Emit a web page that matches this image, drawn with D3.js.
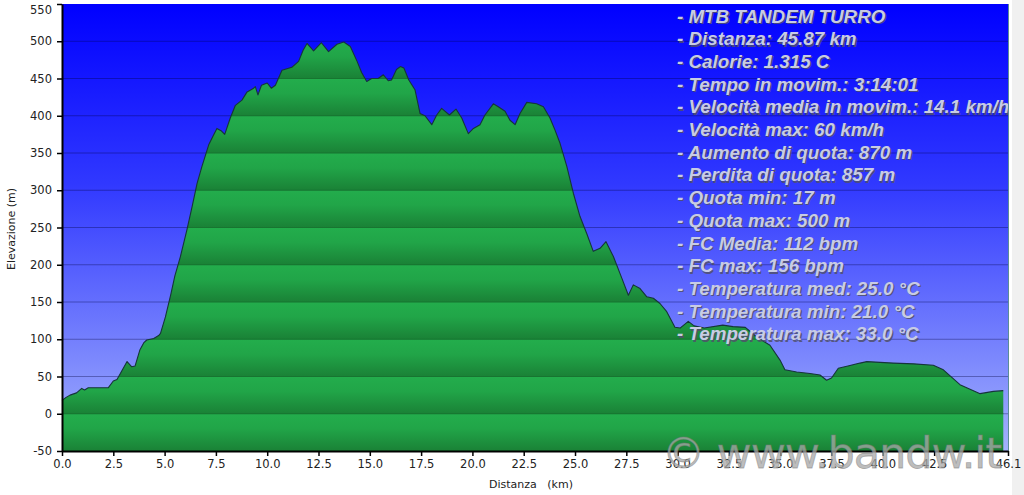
<!DOCTYPE html>
<html><head><meta charset="utf-8">
<script src="https://cdn.jsdelivr.net/npm/d3@7"></script>
<style>body{margin:0;background:#fff;overflow:hidden}</style>
</head><body>
<svg id="c" width="1024" height="495"></svg>
<script>
const distanceKm = [0.0,0.2,0.39,0.71,0.96,1.1,1.28,2.26,2.5,2.68,3.17,3.4,3.56,3.8,3.98,4.13,4.47,4.71,4.8,5.04,5.3,5.5,5.77,6.09,6.34,6.58,6.82,7.15,7.35,7.55,7.75,7.93,8.2,8.45,8.77,9.02,9.34,9.42,9.55,9.72,10.0,10.2,10.4,10.72,11.2,11.53,11.75,11.94,12.26,12.64,12.99,13.4,13.73,14.05,14.38,14.6,14.85,15.09,15.41,15.66,15.9,16.06,16.3,16.49,16.66,16.9,17.2,17.45,17.69,18.02,18.26,18.5,18.88,19.2,19.48,19.8,20.05,20.37,20.61,21.02,21.26,21.59,21.83,22.08,22.32,22.65,23.13,23.46,23.78,24.02,24.27,24.6,24.92,25.24,25.57,25.89,26.22,26.51,26.87,27.28,27.6,27.84,28.17,28.5,28.82,29.14,29.47,29.87,30.12,30.52,30.8,31.3,32.2,32.7,33.3,33.85,34.5,34.99,35.23,35.8,36.45,36.94,37.26,37.5,37.83,38.3,38.89,39.22,40.51,41.5,42.46,42.95,43.76,44.74,45.39,45.87];
const elevationM = [18,22,25,28,34,32,35,35,44,46,70,63,64,86,95,99,101,105,108,130,160,185,211,247,278,309,332,361,372,383,380,375,397,414,421,432,437,439,428,441,444,437,441,461,465,473,488,497,487,498,486,496,499,493,473,458,446,450,450,455,447,448,462,466,464,448,435,403,400,388,401,410,401,409,397,376,383,388,401,416,412,406,394,388,403,418,416,412,397,381,363,332,296,265,242,218,222,231,211,182,159,173,168,157,155,148,137,116,115,124,118,115,119,117,116,103,92,72,59,56,54,52,45,48,61,64,68,70,68,67,65,59,39,27,30,31];
const yTickValues = [-50,0,50,100,150,200,250,300,350,400,450,500,550];
const xTickValues = [0,2.5,5,7.5,10,12.5,15,17.5,20,22.5,25,27.5,30,32.5,35,37.5,40,42.5,46.1];
const statsLines = [
  "- MTB TANDEM TURRO",
  "- Distanza: 45.87 km",
  "- Calorie: 1.315 C",
  "- Tempo in movim.: 3:14:01",
  "- Velocità media in movim.: 14.1 km/h",
  "- Velocità max: 60 km/h",
  "- Aumento di quota: 870 m",
  "- Perdita di quota: 857 m",
  "- Quota min: 17 m",
  "- Quota max: 500 m",
  "- FC Media: 112 bpm",
  "- FC max: 156 bpm",
  "- Temperatura med: 25.0 °C",
  "- Temperatura min: 21.0 °C",
  "- Temperatura max: 33.0 °C"
];
const watermarkText = "© www.bandw.it";
const xTitle = "Distanza   (km)";
const yTitle = "Elevazione (m)";

const data = distanceKm.map((k,i)=>({km:k, m:elevationM[i]}));
const svg = d3.select("#c");
const L=62, R=1008, T=4, B=451;
const x = d3.scaleLinear().domain([0,46.1]).range([L,R]);
const y = d3.scaleLinear().domain([-50,550]).range([B,T]);

const defs = svg.append("defs");
const bg = defs.append("linearGradient").attr("id","bg").attr("gradientUnits","userSpaceOnUse")
  .attr("x1",0).attr("x2",0).attr("y1",T).attr("y2",B);
bg.append("stop").attr("offset",0).attr("stop-color","#0000ff");
bg.append("stop").attr("offset",0.4).attr("stop-color","#3038ff");
bg.append("stop").attr("offset",1).attr("stop-color","#a4b2fc");
const gr = defs.append("linearGradient").attr("id","gr").attr("gradientUnits","userSpaceOnUse")
  .attr("spreadMethod","repeat")
  .attr("x1",0).attr("x2",0).attr("y1",y(550)).attr("y2",y(500));
gr.append("stop").attr("offset",0).attr("stop-color","#23ad4c");
gr.append("stop").attr("offset",0.4).attr("stop-color","#21a548");
gr.append("stop").attr("offset",1).attr("stop-color","#1a8136");
defs.append("clipPath").attr("id","plotclip").append("rect")
  .attr("x",L).attr("y",T).attr("width",R-L).attr("height",B-T);
const area = d3.area().x(d=>x(d.km)).y0(B).y1(d=>y(d.m));
const line = d3.line().x(d=>x(d.km)).y(d=>y(d.m));
defs.append("clipPath").attr("id","areaclip").append("path").attr("d",area(data));

// right gray strip
svg.append("rect").attr("x",1012).attr("y",0).attr("width",12).attr("height",495).attr("fill","#f0f0f0");

// background
svg.append("rect").attr("x",L).attr("y",T).attr("width",R-L).attr("height",B-T).attr("fill","url(#bg)");
svg.append("g").selectAll("line").data(yTickValues.slice(1,-1)).join("line")
  .attr("x1",L).attr("x2",R).attr("y1",d=>y(d)).attr("y2",d=>y(d))
  .attr("stroke","rgba(0,0,60,0.35)").attr("stroke-width",1);

// area
svg.append("path").attr("d",area(data)).attr("fill","url(#gr)");
svg.append("g").attr("clip-path","url(#areaclip)").selectAll("line").data(yTickValues.slice(1,-1)).join("line")
  .attr("x1",L).attr("x2",R).attr("y1",d=>y(d)).attr("y2",d=>y(d))
  .attr("stroke","#177530").attr("stroke-width",1.2);
svg.append("path").attr("d",line(data)).attr("fill","none")
  .attr("stroke","#16353a").attr("stroke-width",1.1).attr("stroke-linejoin","round");

// right border
svg.append("line").attr("x1",R+0.5).attr("x2",R+0.5).attr("y1",T).attr("y2",B).attr("stroke","#5b8c98").attr("stroke-width",1);

// stats text
const st = svg.append("g").attr("clip-path","url(#plotclip)")
  .style("font-family","'Liberation Sans', Arial, sans-serif").style("font-weight","bold")
  .style("font-style","italic").style("font-size","18.8px");
st.selectAll("text.sh").data(statsLines).join("text").attr("class","sh")
  .attr("x",678.3).attr("y",(d,i)=>23.8+i*22.7).attr("fill","#50506a").attr("fill-opacity",0.85).text(d=>d);
st.selectAll("text.fg").data(statsLines).join("text").attr("class","fg")
  .attr("x",677).attr("y",(d,i)=>22.5+i*22.7).attr("fill","#c8cce4").text(d=>d);

// axes
const yAxis = svg.append("g").attr("transform",`translate(${L},0)`)
  .call(d3.axisLeft(y).tickValues(yTickValues).tickSize(5).tickSizeOuter(0).tickPadding(5).tickFormat(d=>String(d)));
const xAxis = svg.append("g").attr("transform",`translate(0,${B})`)
  .call(d3.axisBottom(x).tickValues(xTickValues).tickSize(5).tickSizeOuter(0).tickPadding(4).tickFormat(d3.format(".1f")));
[yAxis,xAxis].forEach(a=>{
  a.select(".domain").attr("stroke","#000").attr("stroke-width",2);
  a.selectAll(".tick line").attr("stroke","#000").attr("stroke-width",1.5);
  a.selectAll(".tick text").attr("fill","#222").style("font-family","'DejaVu Sans', Verdana, sans-serif").style("font-size","11.5px");
});
yAxis.selectAll(".tick text").filter(d=>d===550).attr("dy","0.85em");

svg.append("text").attr("x",531).attr("y",488).attr("text-anchor","middle")
  .style("font-family","'DejaVu Sans', Verdana, sans-serif").style("font-size","11px").attr("fill","#222")
  .attr("xml:space","preserve").style("white-space","pre").text(xTitle);
svg.append("text").attr("transform","translate(15,229) rotate(-90)").attr("text-anchor","middle")
  .style("font-family","'DejaVu Sans', Verdana, sans-serif").style("font-size","11px").attr("fill","#222").text(yTitle);

// watermark
svg.append("text").attr("x",662).attr("y",468).attr("textLength",340).attr("lengthAdjust","spacing")
  .style("font-family","'DejaVu Sans', Verdana, sans-serif").style("font-size","43px")
  .attr("fill","#a8a8a8").attr("fill-opacity",0.75).attr("stroke","#777").attr("stroke-opacity",0.5).attr("stroke-width",0.8)
  .text(watermarkText);
</script>
</body></html>
